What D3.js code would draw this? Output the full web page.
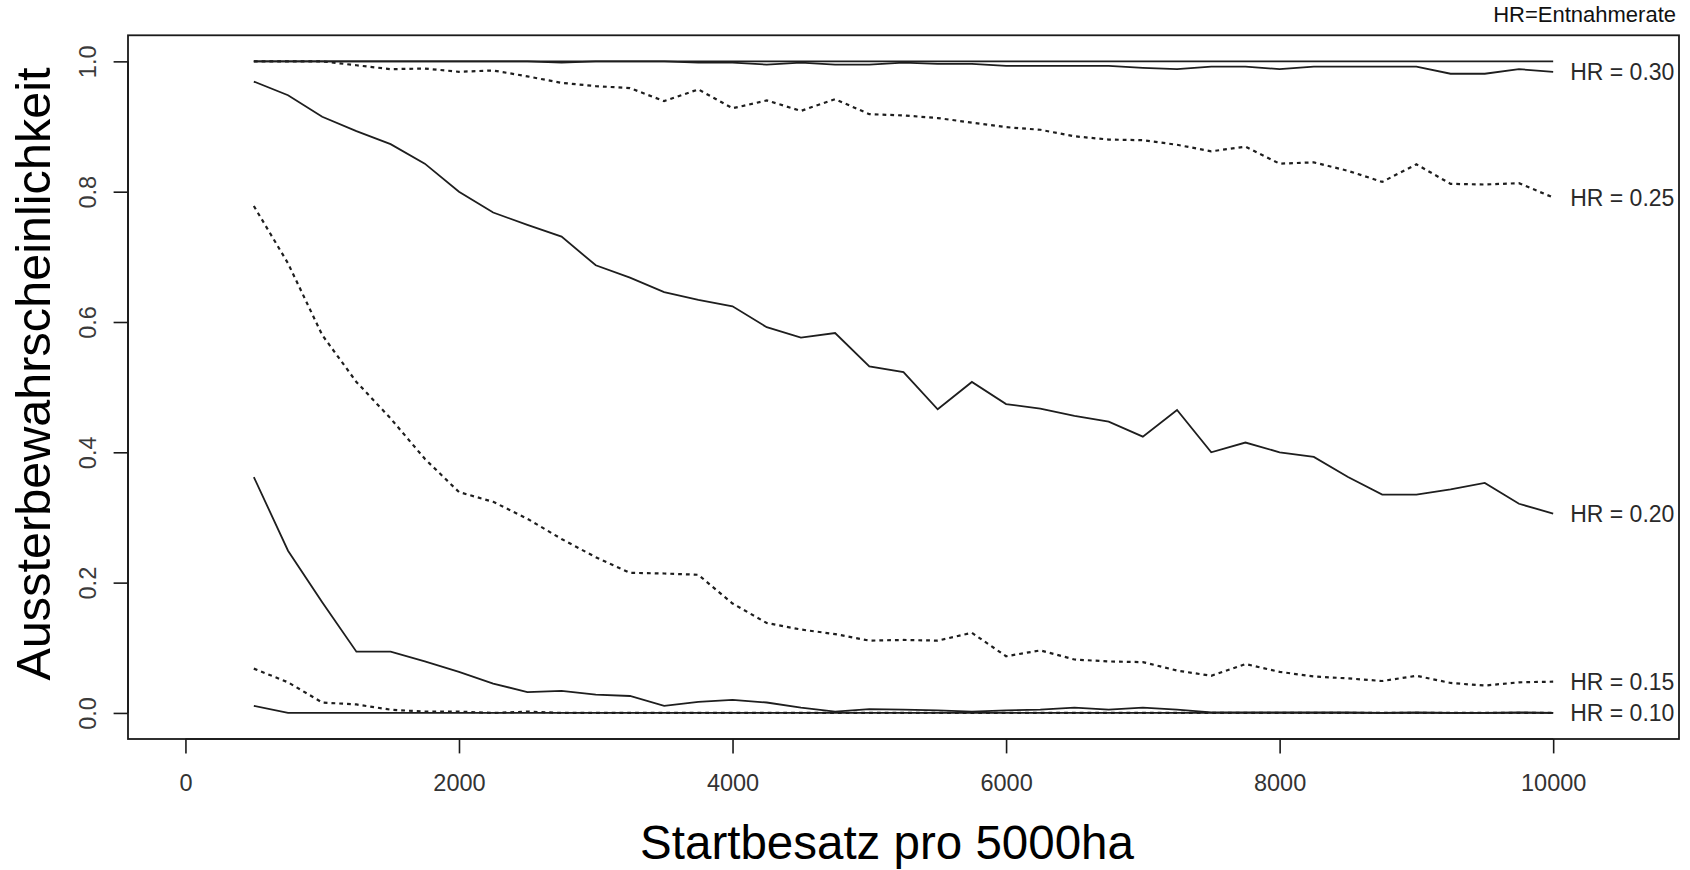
<!DOCTYPE html>
<html><head><meta charset="utf-8">
<script src="https://cdn.jsdelivr.net/npm/d3@7"></script>
<style>html,body{margin:0;padding:0;background:#fff;}svg{display:block;}</style>
</head><body>
<svg id="chart" width="1690" height="870"></svg>
<script>
// ---- data ----
const startBesatz = [500,750,1000,1250,1500,1750,2000,2250,2500,2750,3000,3250,3500,3750,4000,4250,4500,4750,5000,5250,5500,5750,6000,6250,6500,6750,7000,7250,7500,7750,8000,8250,8500,8750,9000,9250,9500,9750,10000];

const hrTop = [1,1,1,1,1,1,1,1,1,1,1,1,1,1,1,1,1,1,1,1,1,1,1,1,1,1,1,1,1,1,1,1,1,1,1,1,1,1,1];
const hr030 = [1,1,1,1,1,1,1,1,1,0.998,1,1,1,0.998,0.998,0.995,0.998,0.995,0.995,0.998,0.996,0.996,0.993,0.993,0.993,0.993,0.990,0.988,0.992,0.992,0.988,0.992,0.992,0.992,0.992,0.981,0.981,0.988,0.984];
const hr025 = [1,1,1,0.994,0.988,0.989,0.984,0.986,0.977,0.967,0.962,0.959,0.939,0.957,0.928,0.940,0.924,0.942,0.919,0.917,0.913,0.906,0.899,0.895,0.885,0.880,0.879,0.872,0.862,0.869,0.843,0.845,0.832,0.815,0.842,0.812,0.811,0.813,0.791];
const hr020 = [0.969,0.948,0.915,0.893,0.873,0.843,0.800,0.768,0.749,0.731,0.687,0.668,0.646,0.634,0.624,0.592,0.576,0.583,0.532,0.523,0.466,0.508,0.474,0.467,0.456,0.447,0.424,0.465,0.400,0.415,0.400,0.393,0.362,0.335,0.335,0.343,0.353,0.321,0.306];
const hr015 = [0.778,0.690,0.580,0.508,0.452,0.390,0.339,0.324,0.298,0.267,0.239,0.215,0.214,0.212,0.168,0.138,0.128,0.121,0.111,0.112,0.111,0.123,0.087,0.096,0.082,0.079,0.078,0.065,0.057,0.075,0.063,0.056,0.053,0.049,0.057,0.046,0.042,0.047,0.048];
const hr010 = [0.362,0.249,0.170,0.094,0.094,0.079,0.063,0.045,0.032,0.034,0.028,0.026,0.011,0.017,0.020,0.016,0.008,0.002,0.006,0.005,0.004,0.002,0.004,0.005,0.008,0.005,0.008,0.005,0.001,0.001,0.001,0.001,0.001,0,0.001,0,0,0.001,0];
const hr005 = [0.068,0.047,0.016,0.013,0.005,0.002,0.002,0,0.002,0,0,0,0,0,0,0,0,0,0,0,0,0,0,0,0,0,0,0,0,0,0,0,0,0,0,0,0,0,0];
const hr000 = [0.011,0,0,0,0,0,0,0,0,0,0,0,0,0,0,0,0,0,0,0,0,0,0,0,0,0,0,0,0,0,0,0,0,0,0,0,0,0,0];

const seriesList = [
  {values: hrTop, dotted: false, label: null},
  {values: hr005, dotted: true,  label: null},
  {values: hr000, dotted: false, label: null},
  {values: hr030, dotted: false, label: "HR = 0.30"},
  {values: hr025, dotted: true,  label: "HR = 0.25"},
  {values: hr020, dotted: false, label: "HR = 0.20"},
  {values: hr015, dotted: true,  label: "HR = 0.15"},
  {values: hr010, dotted: false, label: "HR = 0.10"}
];
const xTicks = [0,2000,4000,6000,8000,10000];
const yTicks = [0,0.2,0.4,0.6,0.8,1.0];
const xTitle = "Startbesatz pro 5000ha";
const yTitle = "Aussterbewahrscheinlichkeit";
const noteText = "HR=Entnahmerate";

// ---- drawing ----
const svg = d3.select("#chart");
const font = "'Liberation Sans', Arial, Helvetica, sans-serif";
const x = d3.scaleLinear().domain([-420, 10920]).range([128, 1679]);
const y = d3.scaleLinear().domain([-0.04, 1.04]).range([739, 35.3]);

const line = d3.line().x((d,i)=>x(startBesatz[i])).y(d=>y(d));
seriesList.forEach(s=>{
  svg.append("path").datum(s.values)
    .attr("d", line)
    .attr("fill","none")
    .attr("stroke","#1e1e1e")
    .attr("stroke-width", s.dotted ? 2.2 : 1.8)
    .attr("stroke-dasharray", s.dotted ? "3.8,4" : null);
  if (s.label) {
    svg.append("text")
      .attr("x", x(10000) + 17)
      .attr("y", y(s.values[s.values.length-1]) + 23*0.358)
      .attr("font-family", font).attr("font-size", 23)
      .attr("fill", "#2a2a2a")
      .text(s.label);
  }
});

// frame
svg.append("rect").attr("x",128).attr("y",35.3).attr("width",1679-128).attr("height",739-35.3)
  .attr("fill","none").attr("stroke","#1a1a1a").attr("stroke-width",1.8);

// x axis
const xAxis = svg.append("g").attr("transform","translate(0,739)")
  .call(d3.axisBottom(x).tickValues(xTicks).tickSize(14.4).tickSizeOuter(0).tickPadding(21).tickFormat(d3.format("d")));
xAxis.select(".domain").attr("d", `M${x(0)},0H${x(10000)}`).attr("stroke","#1a1a1a").attr("stroke-width",1.6);
xAxis.selectAll(".tick line").attr("stroke","#1a1a1a").attr("stroke-width",1.6);
xAxis.selectAll("text").attr("font-family",font).attr("font-size",23.5).attr("fill","#333");

// y axis
const yAxis = svg.append("g").attr("transform","translate(128,0)")
  .call(d3.axisLeft(y).tickValues(yTicks).tickSize(14.4).tickSizeOuter(0).tickFormat(d3.format(".1f")));
yAxis.select(".domain").attr("d", `M0,${y(0)}V${y(1)}`).attr("stroke","#1a1a1a").attr("stroke-width",1.6);
yAxis.selectAll(".tick line").attr("stroke","#1a1a1a").attr("stroke-width",1.6);
yAxis.selectAll(".tick text").remove();
yAxis.selectAll(".tick").append("text")
  .attr("transform","translate(-32,0) rotate(-90)")
  .attr("text-anchor","middle")
  .attr("font-family",font).attr("font-size",23.5).attr("fill","#3a3a3a")
  .text(d=>d3.format(".1f")(d));

// titles
svg.append("text").attr("x",887).attr("y",859).attr("text-anchor","middle")
  .attr("font-family",font).attr("font-size",47.5).attr("fill","#000").text(xTitle);
svg.append("text").attr("transform","translate(50,374) rotate(-90)").attr("text-anchor","middle")
  .attr("font-family",font).attr("font-size",48.6).attr("fill","#000").text(yTitle);
svg.append("text").attr("x",1676).attr("y",21.5).attr("text-anchor","end")
  .attr("font-family",font).attr("font-size",22).attr("fill","#111").text(noteText);
</script>
</body></html>
